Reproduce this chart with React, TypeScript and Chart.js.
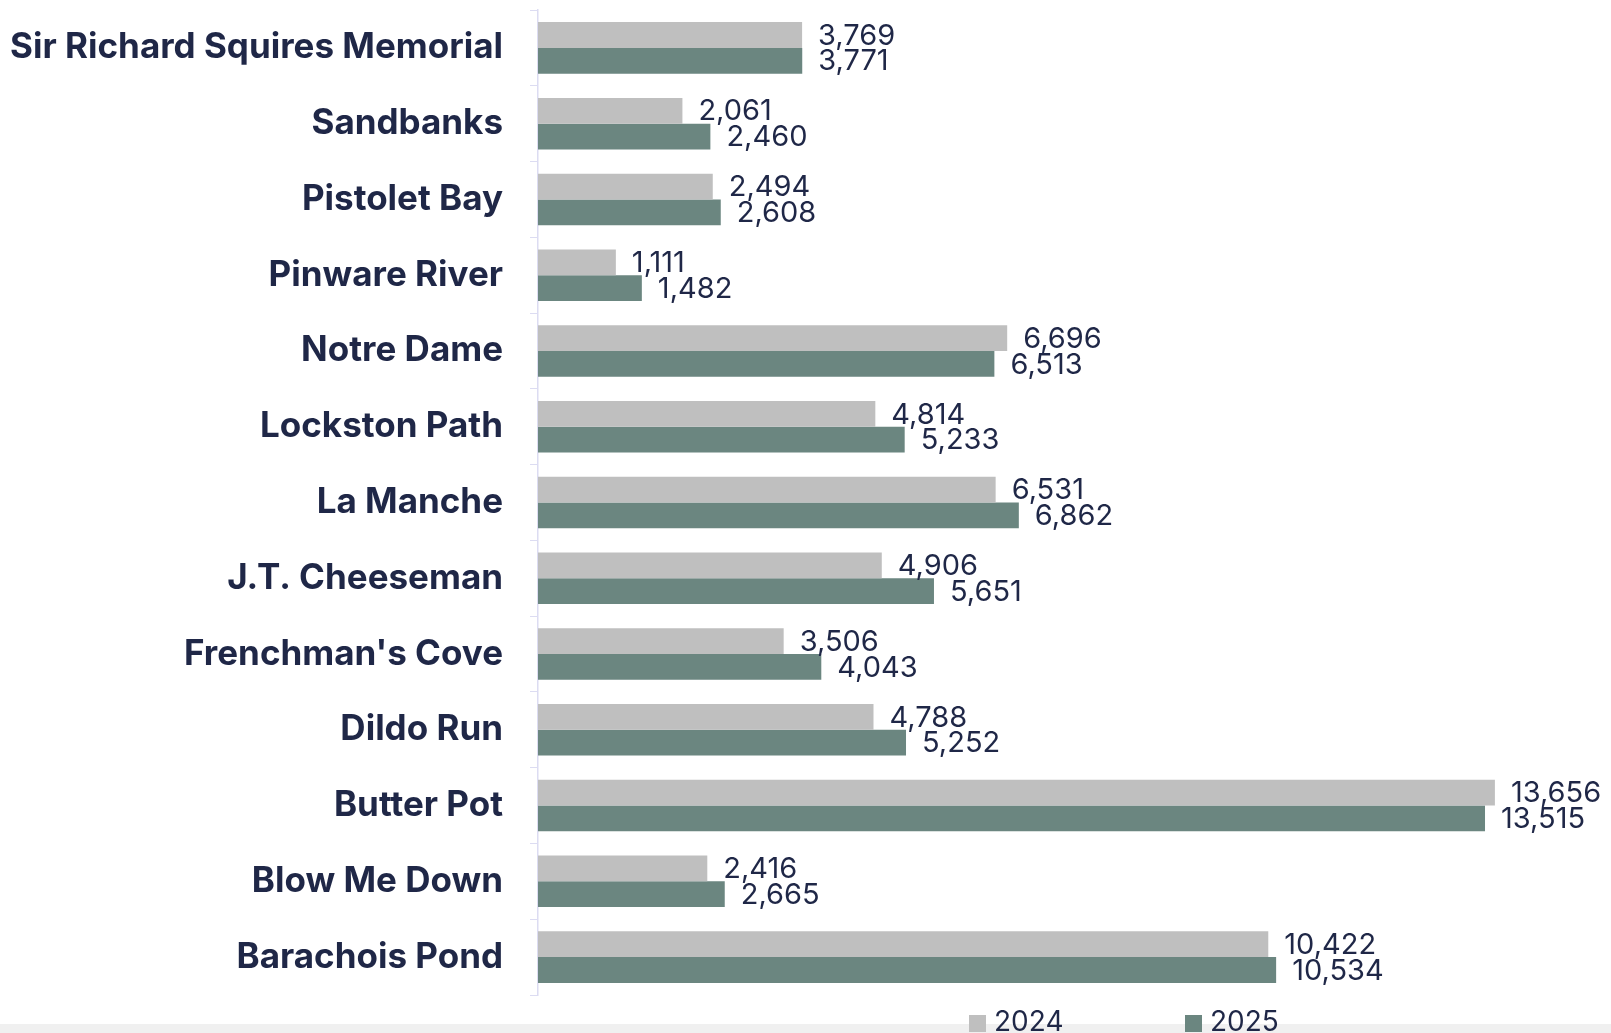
import React, { useEffect, useRef } from "react";
import { Chart, registerables } from "chart.js";

Chart.register(...registerables);

const categories = [
  "Sir Richard Squires Memorial",
  "Sandbanks",
  "Pistolet Bay",
  "Pinware River",
  "Notre Dame",
  "Lockston Path",
  "La Manche",
  "J.T. Cheeseman",
  "Frenchman's Cove",
  "Dildo Run",
  "Butter Pot",
  "Blow Me Down",
  "Barachois Pond",
];
const values2024 = [3769, 2061, 2494, 1111, 6696, 4814, 6531, 4906, 3506, 4788, 13656, 2416, 10422];
const values2025 = [3771, 2460, 2608, 1482, 6513, 5233, 6862, 5651, 4043, 5252, 13515, 2665, 10534];
const seriesLabels = ["2024", "2025"];

const TEXT = "#1f2747";
const GRAY = "#bfbfbf";
const GREEN = "#6b8680";

const valueLabels = {
  id: "valueLabels",
  afterDatasetsDraw(chart: any) {
    const ctx = chart.ctx;
    ctx.save();
    ctx.font = "29px Inter";
    ctx.fillStyle = TEXT;
    ctx.textAlign = "left";
    ctx.textBaseline = "middle";
    chart.data.datasets.forEach((ds: any, i: number) => {
      const meta = chart.getDatasetMeta(i);
      meta.data.forEach((el: any, j: number) => {
        const v = ds.data[j] as number;
        ctx.fillText(v.toLocaleString("en-US"), el.x + 16, el.y + 1);
      });
    });
    ctx.restore();
  },
};

const customLegend = {
  id: "customLegend",
  afterDraw(chart: any) {
    const ctx = chart.ctx;
    const area = chart.chartArea;
    const offsets = [431, 647];
    const y = area.bottom + 28;
    ctx.save();
    ctx.font = "28px Inter";
    ctx.textBaseline = "middle";
    ctx.textAlign = "left";
    chart.data.datasets.forEach((ds: any, i: number) => {
      const x = area.left + offsets[i];
      ctx.fillStyle = ds.backgroundColor;
      ctx.fillRect(x, y - 8, 17, 17);
      ctx.fillStyle = TEXT;
      ctx.fillText(ds.label, x + 25, y);
    });
    ctx.restore();
  },
};

export default function App() {
  const ref = useRef<HTMLCanvasElement>(null);
  useEffect(() => {
    if (!ref.current) return;
    const chart = new Chart(ref.current, {
      type: "bar",
      data: {
        labels: categories,
        datasets: [
          { label: seriesLabels[0], data: values2024, backgroundColor: GRAY, barPercentage: 1, categoryPercentage: 0.68 },
          { label: seriesLabels[1], data: values2025, backgroundColor: GREEN, barPercentage: 1, categoryPercentage: 0.68 },
        ],
      },
      options: {
        indexAxis: "y",
        animation: false,
        responsive: true,
        maintainAspectRatio: false,
        layout: { padding: { top: 2, bottom: 47, right: 84, left: 0 } },
        plugins: {
          legend: { display: false },
          tooltip: { enabled: false },
        },
        scales: {
          x: { display: false, min: 0, max: 14000, grid: { display: false } },
          y: {
            afterFit(scale: any) {
              scale.width = 530;
              scale.paddingTop = 0;
              scale.paddingBottom = 0;
            },
            grid: {
              display: true,
              drawOnChartArea: false,
              drawTicks: true,
              tickLength: 8,
              color: "#dcdcf2",
              offset: true,
            },
            border: { display: true, color: "#dcdcf2", width: 1.5 },
            ticks: {
              padding: 27,
              color: TEXT,
              font: { family: "Inter", size: 35, weight: "bold" },
            },
          },
        },
      },
      plugins: [valueLabels, customLegend],
    });
    return () => chart.destroy();
  }, []);

  return (
    <>
      <div style={{ position: "fixed", left: 0, right: 0, bottom: 0, height: 9, background: "#f0f0f0", zIndex: -1 }} />
      <div style={{ height: 1025, overflow: "hidden" }}>
        <div style={{ position: "relative", height: 1034 }}>
          <canvas ref={ref} />
        </div>
      </div>
    </>
  );
}
